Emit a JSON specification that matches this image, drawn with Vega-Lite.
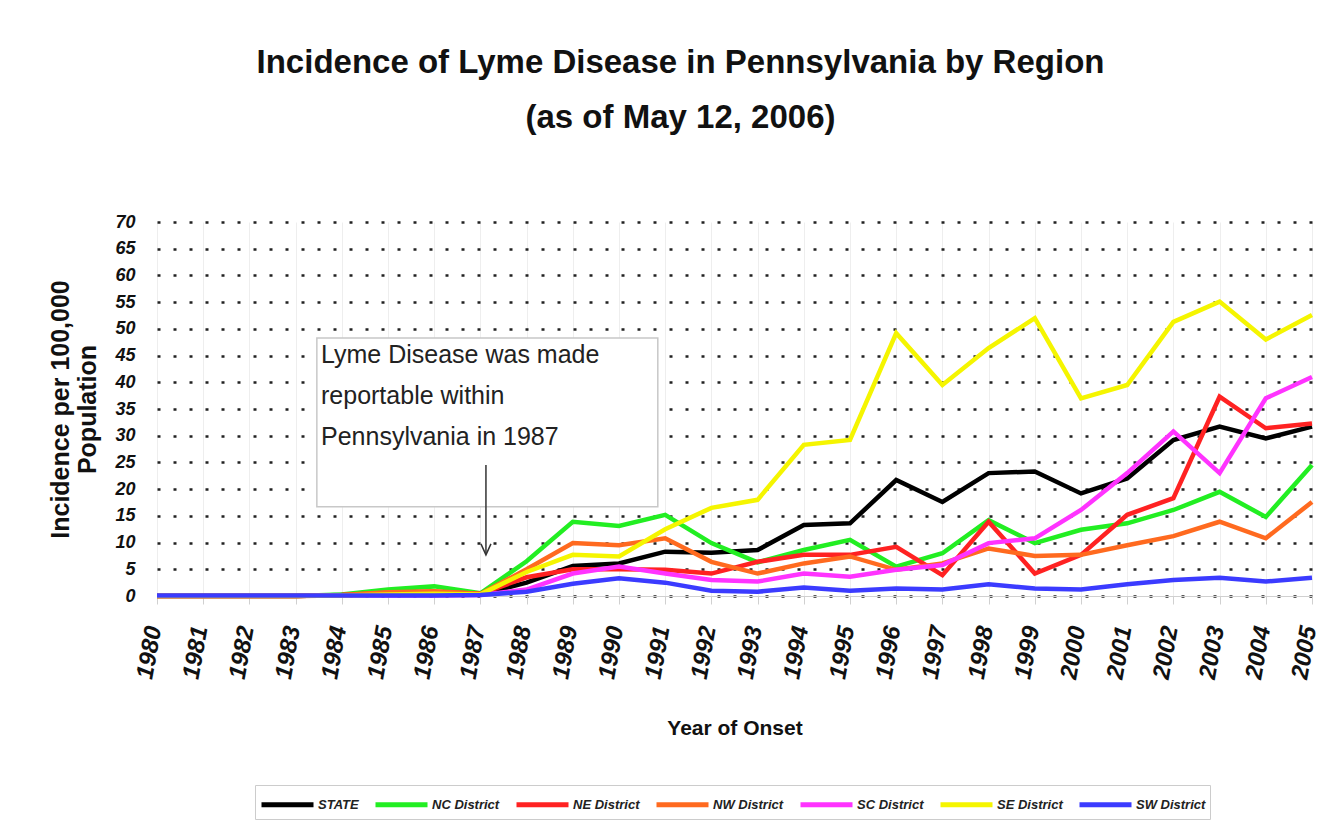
{
  "$schema": "https://vega.github.io/schema/vega-lite/v6.json",
  "width": 1155,
  "height": 374,
  "autosize": {"type": "none"},
  "padding": {"left": 157, "top": 222, "right": 30, "bottom": 242},
  "background": "white",
  "config": {"view": {"stroke": null}, "font": "Liberation Sans"},
  "title": {
    "text": ["Incidence of Lyme Disease in Pennsylvania by Region", "(as of May 12, 2006)"],
    "font": "Liberation Sans",
    "fontSize": 33,
    "fontWeight": "bold",
    "color": "#111111",
    "anchor": "middle",
    "dx": -54,
    "lineHeight": 55,
    "offset": 78
  },
  "datasets": {
    "series": [
      {"year": 1980, "STATE": 0, "NC District": 0, "NE District": 0, "NW District": 0, "SC District": 0, "SE District": 0, "SW District": 0.1},
      {"year": 1981, "STATE": 0, "NC District": 0, "NE District": 0, "NW District": 0, "SC District": 0, "SE District": 0, "SW District": 0.1},
      {"year": 1982, "STATE": 0, "NC District": 0, "NE District": 0, "NW District": 0, "SC District": 0, "SE District": 0, "SW District": 0.1},
      {"year": 1983, "STATE": 0, "NC District": 0, "NE District": 0, "NW District": 0, "SC District": 0, "SE District": 0, "SW District": 0.1},
      {"year": 1984, "STATE": 0.2, "NC District": 0.3, "NE District": 0.2, "NW District": 0.2, "SC District": 0.1, "SE District": 0.1, "SW District": 0.1},
      {"year": 1985, "STATE": 0.5, "NC District": 1.2, "NE District": 0.6, "NW District": 0.7, "SC District": 0.1, "SE District": 0.3, "SW District": 0.1},
      {"year": 1986, "STATE": 0.6, "NC District": 1.8, "NE District": 0.8, "NW District": 0.9, "SC District": 0.1, "SE District": 0.4, "SW District": 0.1},
      {"year": 1987, "STATE": 0.3, "NC District": 0.5, "NE District": 0.4, "NW District": 0.4, "SC District": 0.2, "SE District": 0.3, "SW District": 0.2},
      {"year": 1988, "STATE": 2.5, "NC District": 6.5, "NE District": 3.5, "NW District": 5.0, "SC District": 1.2, "SE District": 4.5, "SW District": 0.8},
      {"year": 1989, "STATE": 5.6, "NC District": 13.9, "NE District": 5.0, "NW District": 9.9, "SC District": 4.2, "SE District": 7.7, "SW District": 2.3},
      {"year": 1990, "STATE": 6.1, "NC District": 13.1, "NE District": 5.0, "NW District": 9.5, "SC District": 5.5, "SE District": 7.4, "SW District": 3.3},
      {"year": 1991, "STATE": 8.3, "NC District": 15.2, "NE District": 4.9, "NW District": 10.8, "SC District": 4.2, "SE District": 12.5, "SW District": 2.5},
      {"year": 1992, "STATE": 8.1, "NC District": 9.9, "NE District": 4.2, "NW District": 6.4, "SC District": 3.0, "SE District": 16.5, "SW District": 1.0},
      {"year": 1993, "STATE": 8.6, "NC District": 6.3, "NE District": 6.4, "NW District": 4.2, "SC District": 2.7, "SE District": 18.0, "SW District": 0.8},
      {"year": 1994, "STATE": 13.3, "NC District": 8.6, "NE District": 7.7, "NW District": 6.1, "SC District": 4.2, "SE District": 28.3, "SW District": 1.6},
      {"year": 1995, "STATE": 13.6, "NC District": 10.5, "NE District": 7.7, "NW District": 7.4, "SC District": 3.6, "SE District": 29.2, "SW District": 1.0},
      {"year": 1996, "STATE": 21.7, "NC District": 5.5, "NE District": 9.2, "NW District": 4.9, "SC District": 4.9, "SE District": 49.2, "SW District": 1.4},
      {"year": 1997, "STATE": 17.6, "NC District": 8.0, "NE District": 3.9, "NW District": 6.1, "SC District": 5.8, "SE District": 39.5, "SW District": 1.2},
      {"year": 1998, "STATE": 23.0, "NC District": 14.2, "NE District": 13.9, "NW District": 8.9, "SC District": 9.9, "SE District": 46.4, "SW District": 2.2},
      {"year": 1999, "STATE": 23.3, "NC District": 9.9, "NE District": 4.2, "NW District": 7.5, "SC District": 10.8, "SE District": 52.0, "SW District": 1.4},
      {"year": 2000, "STATE": 19.2, "NC District": 12.4, "NE District": 7.7, "NW District": 7.7, "SC District": 16.1, "SE District": 37.0, "SW District": 1.2},
      {"year": 2001, "STATE": 22.0, "NC District": 13.6, "NE District": 15.2, "NW District": 9.5, "SC District": 23.0, "SE District": 39.5, "SW District": 2.2},
      {"year": 2002, "STATE": 29.2, "NC District": 16.1, "NE District": 18.3, "NW District": 11.2, "SC District": 30.8, "SE District": 51.3, "SW District": 3.0},
      {"year": 2003, "STATE": 31.7, "NC District": 19.5, "NE District": 37.3, "NW District": 13.9, "SC District": 23.0, "SE District": 55.1, "SW District": 3.4},
      {"year": 2004, "STATE": 29.5, "NC District": 14.8, "NE District": 31.4, "NW District": 10.8, "SC District": 37.0, "SE District": 48.0, "SW District": 2.7},
      {"year": 2005, "STATE": 31.7, "NC District": 24.5, "NE District": 32.3, "NW District": 17.6, "SC District": 41.0, "SE District": 52.6, "SW District": 3.4}
    ],
    "box": [{"year": 1983.46, "year2": 1990.84, "value": 16.7, "value2": 48.3}],
    "note": [{"year": 1983.55, "value": 47.4, "label": "Lyme Disease was made\nreportable within\nPennsylvania in 1987"}],
    "arrow": [{"year": 1987.12, "value": 24.5, "value2": 8.0}],
    "tip": [{"year": 1987.12, "value": 7.7}]
  },
  "encoding": {
    "x": {
      "field": "year",
      "type": "quantitative",
      "scale": {"domain": [1980, 2005], "nice": false, "zero": false},
      "axis": {
        "values": [1980,1981,1982,1983,1984,1985,1986,1987,1988,1989,1990,1991,1992,1993,1994,1995,1996,1997,1998,1999,2000,2001,2002,2003,2004,2005],
        "format": "d",
        "labelAngle": -80,
        "labelFontSize": 24,
        "labelFontWeight": "bold",
        "labelFontStyle": "italic",
        "labelColor": "#111111",
        "labelPadding": 22,
        "labelOffset": -3,
        "labelOverlap": false,
        "labelFlush": false,
        "tickColor": "#d0d0d0",
        "tickSize": 8,
        "domainColor": "#d0d0d0",
        "grid": true,
        "gridColor": "#eeeeee",
        "title": "Year of Onset",
        "titleFontSize": 21,
        "titleFontWeight": "bold",
        "titleColor": "#111111",
        "titlePadding": 37
      }
    },
    "y": {
      "field": "value",
      "type": "quantitative",
      "scale": {"domain": [0, 70], "nice": false},
      "axis": {
        "values": [0,5,10,15,20,25,30,35,40,45,50,55,60,65,70],
        "grid": true,
        "gridColor": "#222222",
        "gridDash": [3, 13],
        "gridWidth": 2.5,
        "ticks": false,
        "domain": false,
        "labelFontSize": 18,
        "labelFontWeight": "bold",
        "labelFontStyle": "italic",
        "labelColor": "#111111",
        "labelPadding": 22,
        "title": ["Incidence per 100,000", "Population"],
        "titleFontSize": 25,
        "titleFontWeight": "bold",
        "titleColor": "#111111",
        "titlePadding": 14
      }
    }
  },
  "layer": [
    {
      "data": {"name": "box"},
      "mark": {"type": "rect", "fill": "white", "stroke": "#c8c8c8", "strokeWidth": 1.5},
      "encoding": {"x2": {"field": "year2"}, "y2": {"field": "value2"}}
    },
    {
      "data": {"name": "note"},
      "mark": {"type": "text", "align": "left", "baseline": "top", "font": "Liberation Sans", "fontSize": 25, "lineHeight": 41, "lineBreak": "\n", "color": "#222222"},
      "encoding": {"text": {"field": "label"}}
    },
    {
      "data": {"name": "arrow"},
      "mark": {"type": "rule", "color": "#333333", "strokeWidth": 1.5},
      "encoding": {"y2": {"field": "value2"}}
    },
    {
      "data": {"name": "tip"},
      "mark": {"type": "point", "shape": "M -1 -2.2 L 0 0 L 1 -2.2", "size": 100, "filled": false, "color": "#333333", "strokeWidth": 1.5, "opacity": 1},
      "encoding": {}
    },
    {
      "data": {"name": "series"},
      "transform": [{"fold": ["STATE", "NC District", "NE District", "NW District", "SC District", "SE District", "SW District"], "as": ["region", "value"]}],
      "mark": {"type": "line", "strokeWidth": 4.5},
      "encoding": {
        "color": {
          "field": "region",
          "type": "nominal",
          "sort": ["STATE", "NC District", "NE District", "NW District", "SC District", "SE District", "SW District"],
          "scale": {
            "domain": ["STATE", "NC District", "NE District", "NW District", "SC District", "SE District", "SW District"],
            "range": ["#000000", "#22ee22", "#ff2222", "#ff6a1f", "#ff33ff", "#f5f500", "#3b3bff"]
          },
          "legend": {
            "orient": "none",
            "legendX": 98,
            "legendY": 563,
            "direction": "horizontal",
            "columns": 7,
            "title": null,
            "symbolType": "M -1 0 L 3 0",
            "symbolSize": 676,
            "symbolStrokeWidth": 5,
            "labelFont": "Liberation Sans",
            "labelFontSize": 13,
            "labelFontWeight": "bold",
            "labelFontStyle": "italic",
            "labelColor": "#222222",
            "labelOffset": 28,
            "columnPadding": 6,
            "strokeColor": "#cccccc",
            "padding": 4
          }
        }
      }
    }
  ]
}
